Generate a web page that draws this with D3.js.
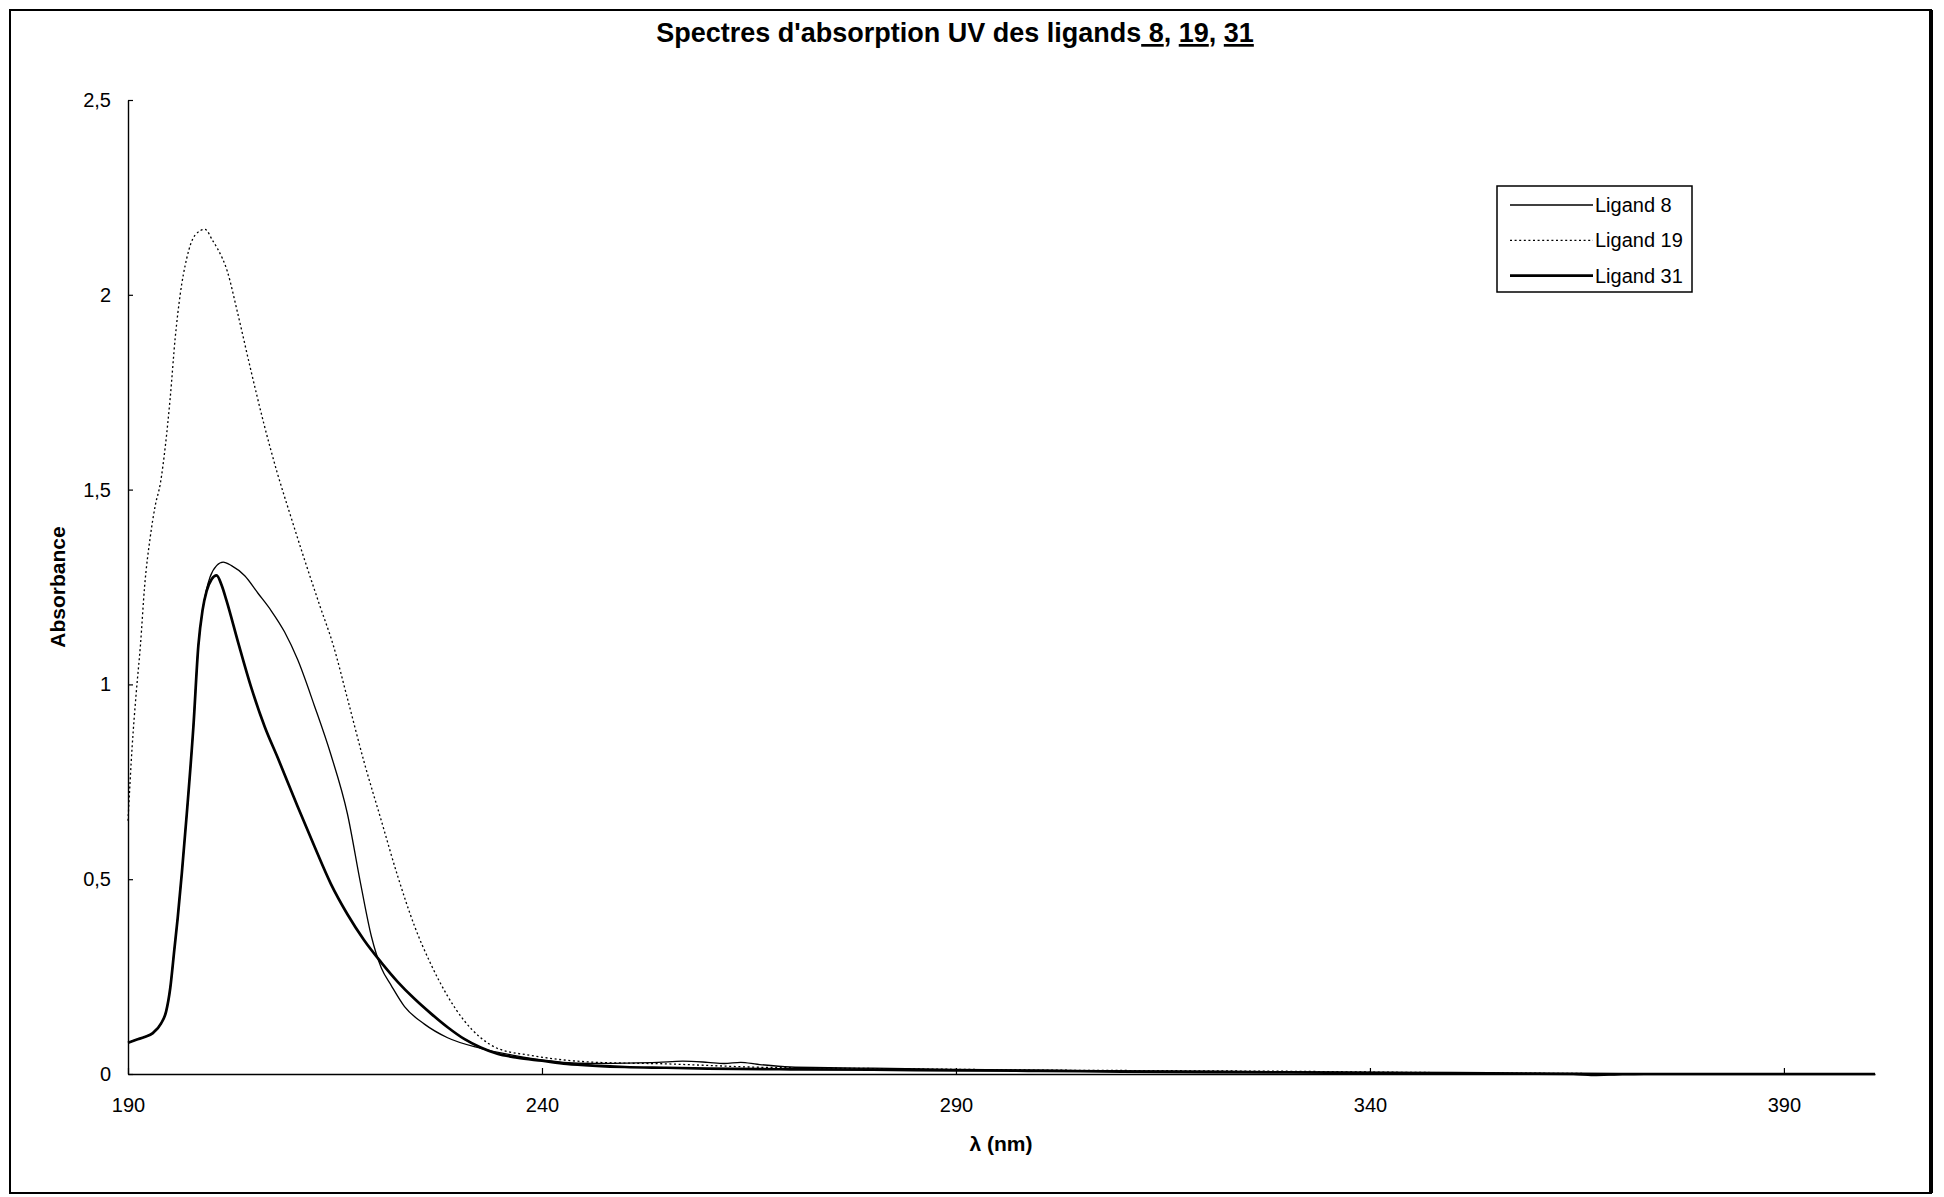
<!DOCTYPE html>
<html>
<head>
<meta charset="utf-8">
<script src="https://cdn.jsdelivr.net/npm/d3@7"></script>
<style>
  html, body { margin: 0; padding: 0; background: #fff; }
  svg { display: block; }
  text { font-family: "Liberation Sans", Arial, sans-serif; fill: #000; }
</style>
</head>
<body>
<svg id="chart" width="1944" height="1197"></svg>
<script>
// UV absorption spectra: wavelength (nm) and absorbance for each ligand
const wl8 = [190,191,192,193,194,194.6,195.1,195.6,196,196.5,197.1,197.9,198.5,199.0,199.5,199.9,200.7,201.5,202.5,204.1,205.7,207.3,208.9,210.5,212.5,214.5,216.5,218.1,219.4,220.6,221.8,223.4,225.8,228.6,232.6,236.6,240,242.6,246,250,254,257,260,262,264,266,270,280,290,300,320,340,355,364,367,370,375,390,401];
const abs8 = [0.08,0.088,0.095,0.105,0.13,0.16,0.22,0.32,0.40,0.515,0.668,0.892,1.10,1.19,1.245,1.275,1.305,1.314,1.305,1.279,1.234,1.189,1.135,1.063,0.946,0.82,0.668,0.488,0.353,0.272,0.227,0.173,0.128,0.093,0.066,0.048,0.036,0.03,0.027,0.028,0.03,0.033,0.03,0.027,0.03,0.025,0.018,0.015,0.012,0.01,0.007,0.004,0.002,0.0,-0.004,-0.002,0.0,0.0,0.0];

const wl19 = [190,190.5,191,191.5,192,192.7,193.3,193.9,194.5,195.1,195.7,196.3,197.1,198.1,199.3,200.2,200.8,202.0,203.2,204.8,206.4,208.0,209.6,211.2,213.2,214.8,216.5,218.5,220.6,222.6,224.6,226.6,228.6,230.6,232.6,234.6,238.6,242.6,246.6,250,255,260,265,270,280,290,300,310,320,330,340,360,380,401];
const abs19 = [0.65,0.84,0.98,1.10,1.25,1.38,1.46,1.515,1.61,1.736,1.889,2.0,2.094,2.153,2.168,2.14,2.119,2.06,1.957,1.81,1.67,1.545,1.435,1.328,1.2,1.1,0.964,0.802,0.65,0.506,0.38,0.281,0.2,0.137,0.093,0.066,0.048,0.036,0.03,0.028,0.026,0.022,0.018,0.016,0.014,0.012,0.01,0.009,0.008,0.007,0.005,0.002,0.0,0.0];

const wl31 = [190,191,192,193,194,194.6,195.1,195.6,196,196.5,197.1,197.9,198.5,199.0,199.5,200.1,200.7,201.3,201.9,203.3,204.9,206.5,208.1,210.5,212.5,214.5,216.5,218.5,220.6,222.6,224.6,226.6,228.6,230.6,232.6,234.6,237,240,243,246.6,250,255,260,270,280,290,300,310,320,330,340,350,360,370,390,401];
const abs31 = [0.08,0.088,0.095,0.105,0.13,0.16,0.22,0.32,0.40,0.515,0.668,0.892,1.10,1.19,1.24,1.27,1.28,1.255,1.215,1.108,0.991,0.892,0.811,0.686,0.585,0.488,0.41,0.344,0.286,0.236,0.193,0.155,0.12,0.09,0.068,0.052,0.042,0.034,0.026,0.021,0.018,0.016,0.014,0.012,0.011,0.009,0.008,0.006,0.005,0.004,0.003,0.002,0.001,0.0,0.0,0.0];

const seriesNames = ["Ligand 8", "Ligand 19", "Ligand 31"];
const xTickValues = [190, 240, 290, 340, 390];
const yTickValues = [0, 0.5, 1, 1.5, 2, 2.5];

const series = [
  { name: seriesNames[0], wl: wl8,  abs: abs8,  width: 1.3, dash: null },
  { name: seriesNames[1], wl: wl19, abs: abs19, width: 1.3, dash: "2,2.6" },
  { name: seriesNames[2], wl: wl31, abs: abs31, width: 2.7, dash: null }
];

const svg = d3.select("#chart");

// outer frame
svg.append("rect")
  .attr("x", 10).attr("y", 10).attr("width", 1921).attr("height", 1183)
  .attr("fill", "none").attr("stroke", "#000").attr("stroke-width", 2);
svg.append("line")
  .attr("x1", 1931).attr("x2", 1931).attr("y1", 10).attr("y2", 1193)
  .attr("stroke", "#000").attr("stroke-width", 4);

const x = d3.scaleLinear().domain([190, 401]).range([128, 1875]);
const y = d3.scaleLinear().domain([0, 2.5]).range([1074, 100]);

const fmtComma = d => d3.format("")(d).replace(".", ",");

// x axis (ticks point up into the plot)
const gx = svg.append("g")
  .attr("transform", `translate(0,${y(0)})`)
  .call(d3.axisBottom(x).tickValues(xTickValues).tickSizeInner(-6).tickSizeOuter(0).tickPadding(24));
gx.selectAll("text").attr("font-size", 20).style("font-family", "'Liberation Sans', Arial, sans-serif");
gx.select(".domain").attr("stroke-width", 1.6);
gx.selectAll(".tick line").attr("stroke-width", 1.2);

// y axis (ticks point right into the plot)
const gy = svg.append("g")
  .attr("transform", `translate(${x(190)},0)`)
  .call(d3.axisLeft(y).tickValues(yTickValues).tickFormat(fmtComma).tickSizeInner(-5).tickSizeOuter(0).tickPadding(17));
gy.selectAll("text").attr("font-size", 20).style("font-family", "'Liberation Sans', Arial, sans-serif");
gy.select(".domain").attr("stroke-width", 1.4);
gy.selectAll(".tick line").attr("stroke-width", 1.2);

// spectra
const line = d3.line()
  .x(d => x(d[0]))
  .y(d => y(d[1]))
  .curve(d3.curveMonotoneX);

series.forEach(s => {
  const pts = s.wl.map((w, i) => [w, s.abs[i]]);
  svg.append("path")
    .datum(pts)
    .attr("d", line)
    .attr("fill", "none")
    .attr("stroke", "#000")
    .attr("stroke-width", s.width)
    .attr("stroke-linejoin", "round")
    .attr("stroke-dasharray", s.dash);
});

// title with underlined ligand numbers
const title = svg.append("text")
  .attr("x", 955).attr("y", 42)
  .attr("text-anchor", "middle")
  .attr("font-size", 27)
  .attr("font-weight", "bold");
title.append("tspan").text("Spectres d'absorption UV des ligands");
title.append("tspan").attr("text-decoration", "underline").text(" 8");
title.append("tspan").text(", ");
title.append("tspan").attr("text-decoration", "underline").text("19");
title.append("tspan").text(", ");
title.append("tspan").attr("text-decoration", "underline").text("31");

// axis titles
svg.append("text")
  .attr("x", 1001).attr("y", 1151)
  .attr("text-anchor", "middle")
  .attr("font-size", 21).attr("font-weight", "bold")
  .text("λ (nm)");

svg.append("text")
  .attr("transform", "translate(65,587) rotate(-90)")
  .attr("text-anchor", "middle")
  .attr("font-size", 21).attr("font-weight", "bold")
  .text("Absorbance");

// legend
const lg = svg.append("g");
lg.append("rect")
  .attr("x", 1497).attr("y", 186).attr("width", 195).attr("height", 106)
  .attr("fill", "#fff").attr("stroke", "#000").attr("stroke-width", 1.5);
series.forEach((s, i) => {
  const cy = 205 + i * 35.3;
  lg.append("line")
    .attr("x1", 1510).attr("x2", 1593).attr("y1", cy).attr("y2", cy)
    .attr("stroke", "#000").attr("stroke-width", s.width)
    .attr("stroke-dasharray", s.dash);
  lg.append("text")
    .attr("x", 1595).attr("y", cy + 7)
    .attr("font-size", 20)
    .text(s.name);
});
</script>
</body>
</html>
